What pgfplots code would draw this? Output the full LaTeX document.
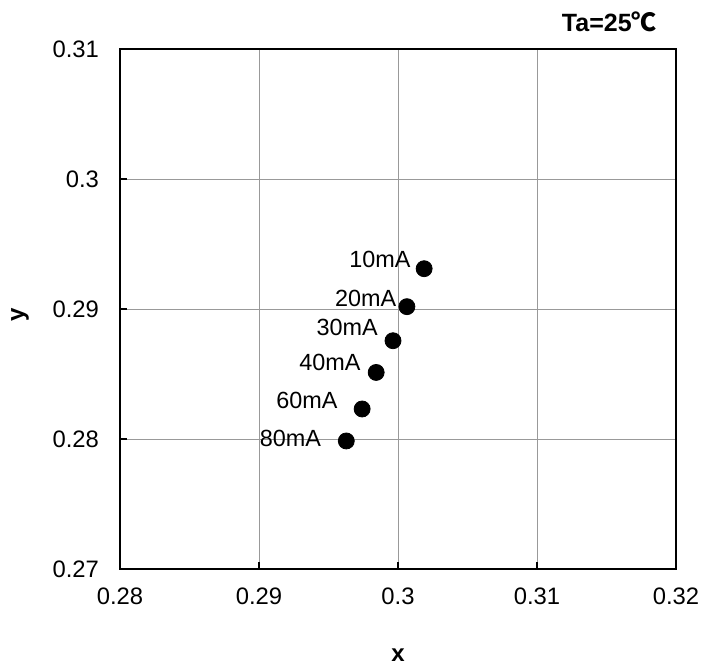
\documentclass[border=0pt]{standalone}
\usepackage{fontspec}
\setmainfont{Liberation Sans}
\newfontfamily\cjk{Noto Sans CJK SC}
\usepackage{pgfplots}
\pgfplotsset{compat=1.18}
\usepackage{pgfplotstable}
\pgfplotstableread{
x y
0.30188 0.29310
0.30064 0.29018
0.29964 0.28756
0.29843 0.28512
0.29742 0.28231
0.29628 0.27985
}\points
\pgfplotstableread{
x y lab
0.30093 0.29379 10mA
0.29991 0.29079 20mA
0.29857 0.28856 30mA
0.29733 0.28589 40mA
0.29568 0.28295 60mA
0.29449 0.28002 80mA
}\labels
\begin{document}
\begin{tikzpicture}
\begin{axis}[
  name=ax,
  scale only axis,
  width=278pt, height=260pt,
  xmin=0.28, xmax=0.32, ymin=0.27, ymax=0.31,
  xtick={0.28,0.29,0.3,0.31,0.32},
  ytick={0.27,0.28,0.29,0.3,0.31},
  xticklabels={0.28,0.29,0.3,0.31,0.32},
  yticklabels={0.27,0.28,0.29,0.3,0.31},
  grid=major,
  major grid style={color=black!40, line width=0.5pt},
  axis line style={black, line width=0.9pt},
  tick style={black, line width=0.9pt},
  tick align=inside,
  major tick length=3.5pt,
  xtick pos=bottom, ytick pos=left,
  ticklabel style={font=\fontsize{11.9}{14}\selectfont},
  xticklabel style={yshift=-6pt},
  yticklabel style={xshift=-7pt},
  xlabel={\textbf{x}},
  ylabel={\textbf{y}},
  label style={font=\fontsize{12}{14}\selectfont},
  x label style={at={([yshift=-43pt]axis description cs:0.5,0)}, anchor=center},
  y label style={at={([xshift=-50pt,yshift=-3pt]axis description cs:0,0.5)}, anchor=center},
  clip=false,
]
\addplot[only marks, mark=*, mark size=4pt, black] table[x=x,y=y] {\points};
\addplot[draw=none, mark=none, nodes near coords, point meta=explicit symbolic,
  every node near coord/.append style={anchor=east, inner sep=0pt, font=\fontsize{11.7}{14}\selectfont}]
  table[x=x,y=y,meta=lab] {\labels};
\node[font=\bfseries\fontsize{12.5}{14}\selectfont] at ([yshift=13.5pt]axis description cs:0.88,1) {Ta=25{\cjk ℃}};
\end{axis}
\pgfresetboundingbox
\path[use as bounding box] ([xshift=-60pt,yshift=-50pt]ax.south west) rectangle ([xshift=13.5pt,yshift=24.5pt]ax.north east);
\end{tikzpicture}
\end{document}
